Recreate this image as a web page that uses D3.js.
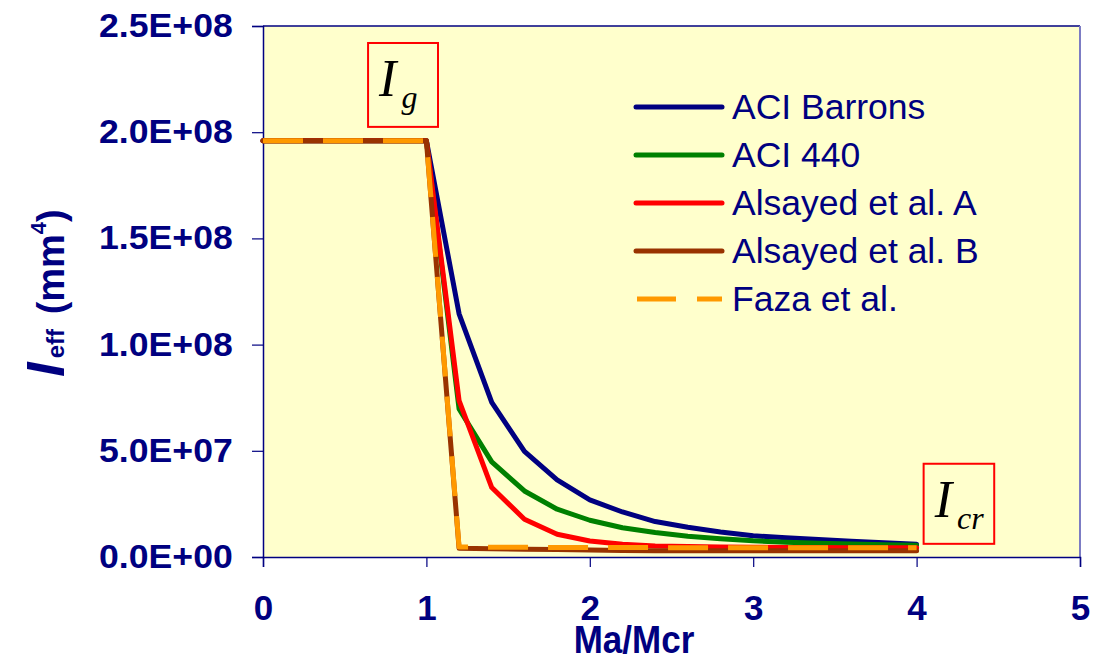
<!DOCTYPE html>
<html>
<head>
<meta charset="utf-8">
<script src="https://cdn.jsdelivr.net/npm/d3@7"></script>
<style>
  html, body { margin: 0; padding: 0; background: #ffffff; }
  svg { display: block; }
</style>
</head>
<body>
<svg id="chart" width="1100" height="657"></svg>
<script>
// ---- data ----
const xValues = [0, 0.2, 0.4, 0.6, 0.8, 1.0, 1.2, 1.4, 1.6, 1.8, 2.0, 2.2, 2.4, 2.6, 2.8, 3.0, 3.2, 3.4, 3.6, 3.8, 4.0];
const aciBarrons = [1.96e8, 1.96e8, 1.96e8, 1.96e8, 1.96e8, 1.96e8, 1.145e8, 0.728e8, 0.497e8, 0.363e8, 0.269e8, 0.212e8, 0.167e8, 0.140e8, 0.118e8, 0.100e8, 0.091e8, 0.082e8, 0.074e8, 0.067e8, 0.060e8];
const aci440 = [1.96e8, 1.96e8, 1.96e8, 1.96e8, 1.96e8, 1.96e8, 0.697e8, 0.448e8, 0.311e8, 0.225e8, 0.173e8, 0.138e8, 0.115e8, 0.098e8, 0.086e8, 0.076e8, 0.070e8, 0.065e8, 0.061e8, 0.058e8, 0.055e8];
const alsayedA = [1.96e8, 1.96e8, 1.96e8, 1.96e8, 1.96e8, 1.96e8, 0.736e8, 0.327e8, 0.178e8, 0.107e8, 0.075e8, 0.060e8, 0.052e8, 0.049e8, 0.047e8, 0.046e8, 0.045e8, 0.045e8, 0.044e8, 0.044e8, 0.044e8];
const alsayedB = [1.96e8, 1.96e8, 1.96e8, 1.96e8, 1.96e8, 1.96e8, 0.041e8, 0.039e8, 0.037e8, 0.035e8, 0.033e8, 0.031e8, 0.030e8, 0.030e8, 0.030e8, 0.030e8, 0.030e8, 0.030e8, 0.030e8, 0.030e8, 0.030e8];
const fazaEtAl = [1.96e8, 1.96e8, 1.96e8, 1.96e8, 1.96e8, 1.96e8, 0.047e8, 0.046e8, 0.046e8, 0.045e8, 0.045e8, 0.045e8, 0.044e8, 0.044e8, 0.044e8, 0.044e8, 0.044e8, 0.044e8, 0.044e8, 0.044e8, 0.044e8];
const seriesNames = ["ACI Barrons", "ACI 440", "Alsayed et al. A", "Alsayed et al. B", "Faza et al."];
const xTicks = [0, 1, 2, 3, 4, 5];
const yTicks = [0, 0.5e8, 1.0e8, 1.5e8, 2.0e8, 2.5e8];
const xTitle = "Ma/Mcr";

(function () {
// ---- styles ----
const seriesStyle = [
  { color: "#000080", dash: null },
  { color: "#008000", dash: null },
  { color: "#FF0000", dash: null },
  { color: "#993300", dash: null },
  { color: "#FF9900", dash: "40,20" }
];
const seriesValues = [aciBarrons, aci440, alsayedA, alsayedB, fazaEtAl];

const svg = d3.select("#chart");
const pL = 263, pR = 1080, pT = 26, pB = 557;
const x = d3.scaleLinear().domain([0, 5]).range([pL, pR]);
const y = d3.scaleLinear().domain([0, 2.5e8]).range([pB, pT]);
const navy = "#000080";
const sans = "'Liberation Sans', Arial, sans-serif";

// plot background
svg.append("rect").attr("x", pL).attr("y", pT).attr("width", pR - pL).attr("height", pB - pT)
  .attr("fill", "#FFFFCC");
// top & right border
svg.append("line").attr("x1", pL).attr("x2", pR).attr("y1", pT).attr("y2", pT)
  .attr("stroke", navy).attr("stroke-width", 1.5);
svg.append("line").attr("x1", pR).attr("x2", pR).attr("y1", pT).attr("y2", pB)
  .attr("stroke", "#7c7cc4").attr("stroke-width", 2);

function sci(d) {
  if (d === 0) return "0.0E+00";
  const e = Math.floor(Math.log10(d) + 1e-9);
  const m = d / Math.pow(10, e);
  return m.toFixed(1) + "E+" + String(e).padStart(2, "0");
}

// y axis
const yAxis = svg.append("g").attr("transform", `translate(${pL},0)`)
  .call(d3.axisLeft(y).tickValues(yTicks).tickFormat(sci).tickSize(11).tickPadding(19));
yAxis.select(".domain").attr("stroke", navy).attr("stroke-width", 1.5);
yAxis.selectAll(".tick line").attr("stroke", navy).attr("stroke-width", 1.2);
yAxis.selectAll(".tick text").attr("fill", navy)
  .attr("x", -28)
  .attr("transform", "scale(1.08,1)")
  .style("font-family", sans)
  .style("font-size", "33px").style("font-weight", "bold");

// x axis
const xAxis = svg.append("g").attr("transform", `translate(0,${pB})`)
  .call(d3.axisBottom(x).tickValues(xTicks).tickFormat(d3.format("d")).tickSize(10).tickPadding(28));
xAxis.select(".domain").attr("stroke", navy).attr("stroke-width", 1.5);
xAxis.selectAll(".tick line").attr("stroke", navy).attr("stroke-width", 1.2);
xAxis.selectAll(".tick text").attr("fill", navy)
  .style("font-family", sans)
  .style("font-size", "35px").style("font-weight", "bold");

// series lines
const lineGen = d3.line().x((d, i) => x(xValues[i])).y(d => y(d));
seriesValues.forEach((vals, k) => {
  const st = seriesStyle[k];
  const p = svg.append("path").datum(vals).attr("d", lineGen)
    .attr("fill", "none").attr("stroke", st.color).attr("stroke-width", 5)
    .attr("stroke-linejoin", "round");
  if (st.dash) p.attr("stroke-dasharray", st.dash).attr("stroke-linecap", "butt");
  else p.attr("stroke-linecap", "round");
});

// legend
const legend = svg.append("g");
seriesNames.forEach((name, k) => {
  const st = seriesStyle[k];
  const ly = 107 + k * 48;
  const ln = legend.append("line").attr("x1", st.dash ? 637 : 636).attr("x2", 722)
    .attr("y1", ly).attr("y2", ly)
    .attr("stroke", st.color).attr("stroke-width", 5);
  if (st.dash) ln.attr("stroke-dasharray", "39,21").attr("stroke-linecap", "butt");
  else ln.attr("stroke-linecap", "round");
  legend.append("text").attr("x", 732).attr("y", ly + 12)
    .attr("fill", navy)
    .style("font-family", sans)
    .style("font-size", "35.5px")
    .text(name);
});

// annotation boxes (positioned in data coordinates)
const annots = [
  { main: "I", sub: "g", bx: 0.643, by: 2.42e8, bw: 0.428, bh: 0.395e8 },
  { main: "I", sub: "cr", bx: 4.043, by: 0.439e8, bw: 0.432, bh: 0.377e8 }
];
annots.forEach(a => {
  const rx = x(a.bx), ry = y(a.by), rw = x(a.bx + a.bw) - rx, rh = y(a.by - a.bh) - ry;
  svg.append("rect").attr("x", rx).attr("y", ry).attr("width", rw).attr("height", rh)
    .attr("fill", "#FFFFCC").attr("stroke", "#FF0000").attr("stroke-width", 2);
  const t = svg.append("text").attr("x", rx + 11).attr("y", ry + 53)
    .style("font-family", "'Liberation Serif', 'Times New Roman', serif")
    .style("font-style", "italic").attr("fill", "#000");
  t.append("tspan").style("font-size", "52px").text(a.main);
  t.append("tspan").style("font-size", "32px").attr("dx", 5).attr("dy", 12).text(a.sub);
});

// axis titles
svg.append("text").attr("transform", "translate(634,653) scale(1,1.12)")
  .attr("text-anchor", "middle")
  .attr("fill", navy)
  .style("font-family", sans)
  .style("font-size", "35px").style("font-weight", "bold")
  .text(xTitle);

const yt = svg.append("text").attr("transform", "translate(64,377) rotate(-90)")
  .attr("fill", navy)
  .style("font-family", sans)
  .style("font-weight", "bold");
yt.append("tspan").style("font-size", "53px").style("font-style", "italic").text("I");
yt.append("tspan").style("font-size", "24px").attr("dx", 4).text("eff");
yt.append("tspan").style("font-size", "38px").attr("dx", 4).text(" (mm");
yt.append("tspan").style("font-size", "22px").attr("dy", -18).text("4");
yt.append("tspan").style("font-size", "38px").attr("dy", 18).text(")");
})();
</script>
</body>
</html>
